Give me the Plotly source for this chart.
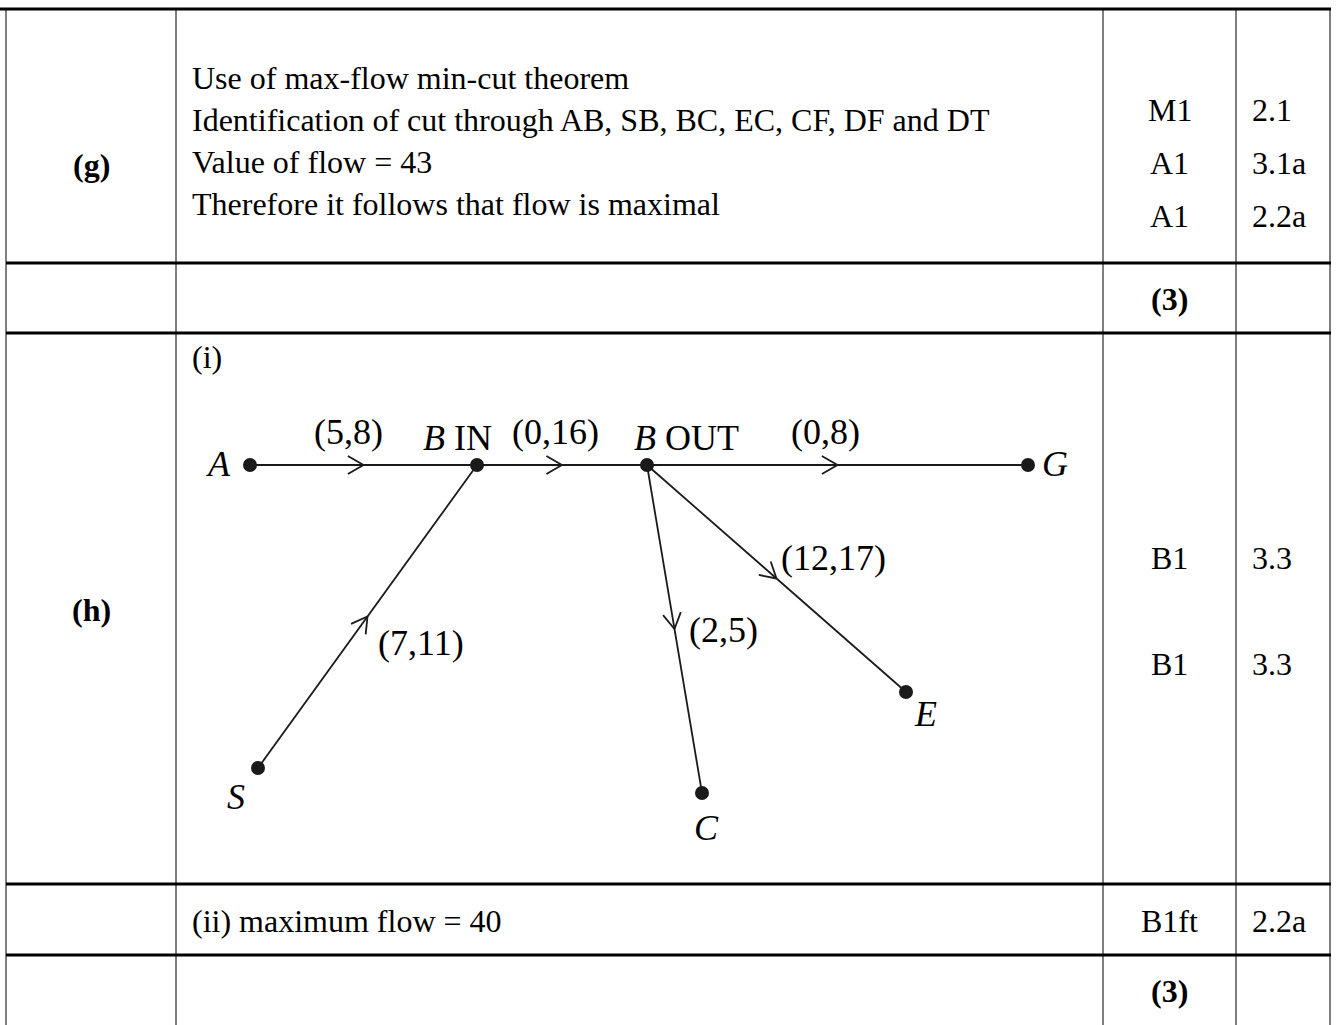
import numpy as np
import plotly.graph_objects as go

W, H = 1336, 1025
SERIF = "Liberation Serif"

# ---- table grid (pixel coords, y down) ----
col_edges = [6, 176, 1103, 1236, 1330]
row_edges = [9, 263, 333, 884, 955]

# ---- table text ----
part_labels = ["(g)", "(h)"]
part_y = [165, 610]

g_lines = [
    "Use of max-flow min-cut theorem",
    "Identification of cut through AB, SB, BC, EC, CF, DF and DT",
    "Value of flow = 43",
    "Therefore it follows that flow is maximal",
]
g_lines_y = [78, 120, 162, 204]

marks = ["M1", "A1", "A1", "(3)", "B1", "B1", "B1ft", "(3)"]
marks_bold = [False, False, False, True, False, False, False, True]
marks_y = [110, 163, 216, 299, 558, 664, 921, 991]
codes = ["2.1", "3.1a", "2.2a", "", "3.3", "3.3", "2.2a", ""]

other_text = ["(i)", "(ii) maximum flow = 40"]
other_y = [357, 921]

# ---- network in part (h)(i) ----
node_names = ["A", "B IN", "B OUT", "G", "S", "C", "E"]
node_x = [250, 477, 647, 1028, 258, 702, 906]
node_y = [465, 465, 465, 465, 768, 793, 692]
node_text = ["<i>A</i>", "<i>B</i> IN", "<i>B</i> OUT", "<i>G</i>", "<i>S</i>", "<i>C</i>", "<i>E</i>"]
node_text_x = [218, 457, 686, 1055, 236, 706, 925]
node_text_y = [464, 438, 438, 464, 797, 828, 714]

edge_from = ["A", "S", "B IN", "B OUT", "B OUT", "B OUT"]
edge_to = ["B IN", "B IN", "B OUT", "G", "C", "E"]
edge_labels = ["(5,8)", "(7,11)", "(0,16)", "(0,8)", "(2,5)", "(12,17)"]
edge_label_x = [348, 421, 555, 825, 723, 833]
edge_label_y = [432, 643, 432, 432, 630, 558]

fig = go.Figure()

# table lines
for x in col_edges:
    fig.add_shape(type="line", x0=x, x1=x, y0=row_edges[0], y1=H + 10,
                  line=dict(color="#7f7f7f", width=2))
for i, y in enumerate(row_edges):
    fig.add_shape(type="line", x0=0 if i == 0 else col_edges[0], x1=col_edges[-1] + 1,
                  y0=y, y1=y, line=dict(color="black", width=3))

ink = "#1a1a1a"
pos = {n: (x, y) for n, x, y in zip(node_names, node_x, node_y)}

# edges and open chevron arrowheads at midpoints
for a, b in zip(edge_from, edge_to):
    (x0, y0), (x1, y1) = pos[a], pos[b]
    fig.add_trace(go.Scatter(x=[x0, x1], y=[y0, y1], mode="lines",
                             line=dict(color=ink, width=1.8), hoverinfo="skip"))
    d = np.array([x1 - x0, y1 - y0], float)
    d /= np.linalg.norm(d)
    tip = np.array([(x0 + x1) / 2, (y0 + y1) / 2])
    wings = []
    for ang in (np.radians(30), -np.radians(30)):
        c, s = np.cos(ang), np.sin(ang)
        r = np.array([c * d[0] - s * d[1], s * d[0] + c * d[1]])
        wings.append(tip - 18 * r)
    fig.add_trace(go.Scatter(x=[wings[0][0], tip[0], wings[1][0]],
                             y=[wings[0][1], tip[1], wings[1][1]], mode="lines",
                             line=dict(color=ink, width=1.8), hoverinfo="skip"))

fig.add_trace(go.Scatter(x=node_x, y=node_y, mode="markers",
                         marker=dict(size=14, color=ink), hoverinfo="skip"))

def txt(x, y, s, size=32, anchor="left"):
    fig.add_annotation(x=x, y=y, text=s, showarrow=False, xanchor=anchor, yanchor="middle",
                       font=dict(family=SERIF, size=size, color="black"))

for s, x, y in zip(node_text, node_text_x, node_text_y):
    txt(x, y, s, size=36, anchor="center")
for s, x, y in zip(edge_labels, edge_label_x, edge_label_y):
    txt(x, y, s, size=36, anchor="center")

mid_part = (col_edges[0] + col_edges[1]) / 2
mid_mark = (col_edges[2] + col_edges[3]) / 2
for s, y in zip(part_labels, part_y):
    txt(mid_part, y, "<b>" + s + "</b>", anchor="center")
for s, y in zip(g_lines, g_lines_y):
    txt(190, y, s)
for s, y in zip(other_text, other_y):
    txt(190, y, s)
for s, b, c, y in zip(marks, marks_bold, codes, marks_y):
    txt(mid_mark, y, "<b>" + s + "</b>" if b else s, anchor="center")
    if c:
        txt(1250, y, c)

fig.update_layout(
    width=W, height=H, margin=dict(l=0, r=0, t=0, b=0),
    plot_bgcolor="white", paper_bgcolor="white", showlegend=False,
    xaxis=dict(range=[0, W], visible=False, fixedrange=True),
    yaxis=dict(range=[H, 0], visible=False, fixedrange=True),
)
# drop the default page margin so the figure sits at the window corner
fig.write_html("out.html", config={"displayModeBar": False},
               post_script="document.body.style.margin='0';")
